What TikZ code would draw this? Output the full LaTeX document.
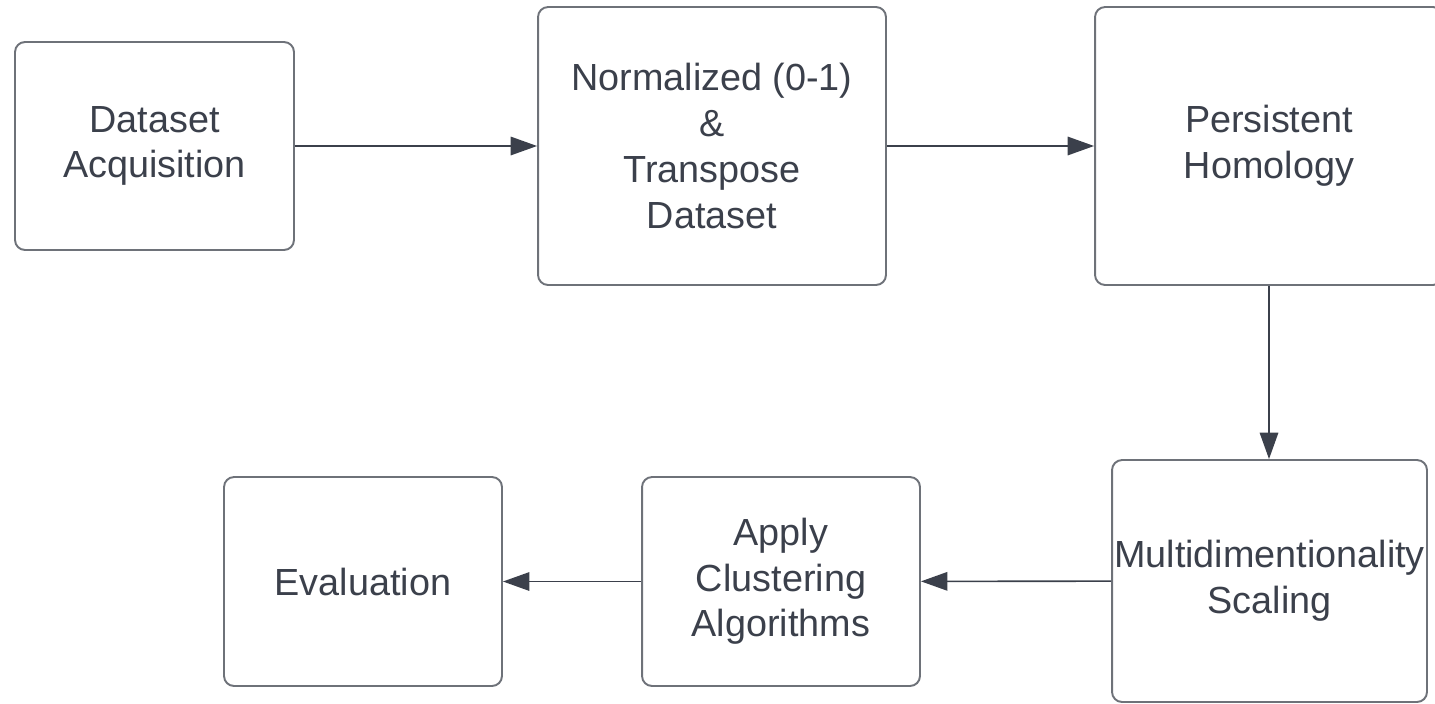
\documentclass[tikz,border=0pt]{standalone}
\usepackage{fontspec}
\setmainfont{Liberation Sans}
\usetikzlibrary{arrows.meta}
\definecolor{boxline}{HTML}{6E7279}
\definecolor{inkgray}{HTML}{3B404B}
\begin{document}
\begin{tikzpicture}[x=0.02cm, y=-0.02cm,
  box/.style={draw=boxline, line width=1.1pt, rounded corners=0.2cm, align=center, inner sep=0pt,
    text=inkgray, font=\fontsize{21.5}{26}\selectfont},
  flow/.style={draw=inkgray, line width=0.9pt, -{Triangle[length=15pt,width=10.5pt]}}]
\useasboundingbox (0,0) rectangle (1435,703);
\node[box, minimum width=5.58cm, minimum height=4.16cm] (a) at (154.5,146) {Dataset\\Acquisition};
\node[box, minimum width=6.96cm, minimum height=5.56cm] (b) at (712,146) {Normalized (0-1)\\\&\\Transpose\\Dataset};
\node[box, minimum width=6.96cm, minimum height=5.56cm] (c) at (1269,146) {Persistent\\Homology};
\node[box, minimum width=6.30cm, minimum height=4.84cm] (d) at (1269.5,581) {Multidimentionality\\Scaling};
\node[box, minimum width=5.56cm, minimum height=4.18cm] (e) at (781,581.5) {Apply\\Clustering\\Algorithms};
\node[box, minimum width=5.56cm, minimum height=4.18cm] (f) at (363,581.5) {Evaluation};
\draw[flow] (a) -- (b);
\draw[flow] (b) -- (c);
\draw[flow] (c.south) -- (c.south |- d.north);
\draw[flow] (d) -- (e);
\draw[flow] (e) -- (f);
\end{tikzpicture}
\end{document}
